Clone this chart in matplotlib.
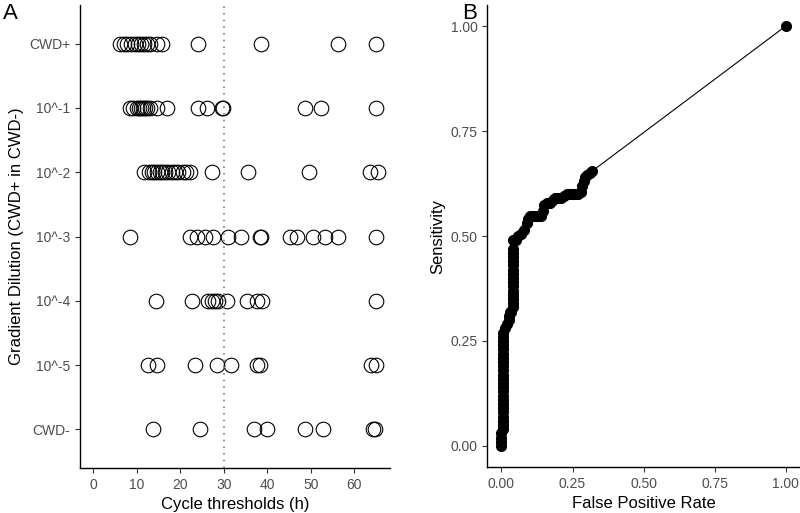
import matplotlib.pyplot as plt

plt.rcParams['font.family'] = ['Liberation Sans', 'DejaVu Sans']

# Panel A: cycle thresholds per dilution level
levels = ["CWD+", "10^-1", "10^-2", "10^-3", "10^-4", "10^-5", "CWD-"]
ct_cwd_pos = [6.2, 7.0, 7.8, 8.6, 9.5, 10.3, 11.0, 11.6, 12.3, 13.0, 14.5, 15.7,
              24.1, 38.5, 56.3, 65.0]
ct_d1 = [8.4, 9.2, 10.0, 10.5, 11.0, 11.4, 11.8, 12.3, 13.0, 14.5, 16.8,
         24.1, 26.2, 29.5, 29.8, 48.7, 52.3, 65.0]
ct_d2 = [11.7, 12.8, 13.5, 14.0, 14.6, 15.2, 15.8, 16.5, 17.2, 18.0, 18.8, 19.5,
         20.5, 21.2, 22.2, 27.2, 35.6, 49.5, 63.6, 65.4]
ct_d3 = [8.3, 22.2, 23.8, 25.7, 27.4, 31.0, 33.9, 38.2, 38.5, 45.2, 46.9, 50.6,
         53.3, 56.3, 65.0]
ct_d4 = [14.4, 22.6, 26.4, 27.2, 28.0, 28.7, 30.7, 35.4, 37.6, 38.7, 65.0]
ct_d5 = [12.6, 14.6, 23.4, 28.4, 31.6, 37.6, 38.3, 63.8, 65.0]
ct_cwd_neg = [13.6, 24.5, 37.0, 40.0, 48.7, 52.7, 64.4, 64.8]
ct_rows = [ct_cwd_pos, ct_d1, ct_d2, ct_d3, ct_d4, ct_d5, ct_cwd_neg]
threshold = 30

# Panel B: ROC curve
fpr = [0.0, 0.0, 0.0, 0.0,
       0.007, 0.007, 0.007, 0.007, 0.007, 0.007, 0.007, 0.007, 0.007, 0.007, 0.007, 0.007,
       0.007, 0.007, 0.007, 0.007, 0.007, 0.007, 0.007, 0.007, 0.007, 0.007, 0.007, 0.007,
       0.014, 0.02, 0.025, 0.025, 0.03, 0.035,
       0.042, 0.042, 0.042, 0.042, 0.042, 0.042, 0.042, 0.042, 0.042, 0.042, 0.042, 0.042,
       0.042, 0.042, 0.042, 0.042,
       0.05, 0.06, 0.07, 0.08, 0.09, 0.095, 0.10, 0.11, 0.12, 0.13, 0.14, 0.145, 0.15,
       0.16, 0.17, 0.18, 0.19, 0.20, 0.21, 0.22, 0.23, 0.24, 0.25, 0.26, 0.27, 0.28,
       0.285, 0.29, 0.295, 0.30, 0.31, 0.32, 1.0]
tpr = [0.00, 0.01, 0.02, 0.03,
       0.04, 0.05, 0.06, 0.07, 0.08, 0.09, 0.10, 0.11, 0.12, 0.13, 0.14, 0.15,
       0.16, 0.17, 0.18, 0.19, 0.20, 0.21, 0.22, 0.23, 0.24, 0.25, 0.26, 0.27,
       0.28, 0.29, 0.30, 0.31, 0.32, 0.32,
       0.33, 0.34, 0.35, 0.36, 0.37, 0.38, 0.39, 0.40, 0.41, 0.42, 0.43, 0.44,
       0.45, 0.46, 0.47, 0.49,
       0.49, 0.50, 0.505, 0.515, 0.53, 0.54, 0.548, 0.548, 0.548, 0.548, 0.548, 0.56, 0.575,
       0.578, 0.578, 0.585, 0.59, 0.59, 0.59, 0.595, 0.60, 0.60, 0.60, 0.60, 0.60, 0.605,
       0.62, 0.63, 0.64, 0.645, 0.65, 0.655, 1.0]

tick_col = "#4D4D4D"

fig = plt.figure(figsize=(8, 5.13), dpi=100)
axA = fig.add_axes([0.1, 0.0877, 0.3875, 0.9025])
axB = fig.add_axes([0.609, 0.0897, 0.391, 0.9005])

# Panel A
for i, vals in enumerate(ct_rows):
    axA.plot(vals, [len(levels) - i] * len(vals), "o", ms=10.5, mfc="none",
             mec="black", mew=0.8)
axA.axvline(threshold, color="#7F7F7F", ls=(0, (1, 3)), lw=1.2)
axA.set_xlim(-3.1, 68.2)
axA.set_ylim(0.4, len(levels) + 0.6)
axA.set_xticks([0, 10, 20, 30, 40, 50, 60])
axA.set_yticks(range(len(levels), 0, -1))
axA.set_yticklabels(levels)
axA.set_xlabel("Cycle thresholds (h)", fontsize=12)
axA.set_ylabel("Gradient Dilution (CWD+ in CWD-)", fontsize=12)

# Panel B
axB.plot(fpr, tpr, "-", color="black", lw=0.8)
axB.plot(fpr, tpr, "o", color="black", ms=7)
axB.set_xlim(-0.05, 1.05)
axB.set_ylim(-0.05, 1.05)
axB.set_xticks([0, 0.25, 0.5, 0.75, 1.0])
axB.set_yticks([0, 0.25, 0.5, 0.75, 1.0])
axB.set_xticklabels(["0.00", "0.25", "0.50", "0.75", "1.00"])
axB.set_yticklabels(["0.00", "0.25", "0.50", "0.75", "1.00"])
axB.set_xlabel("False Positive Rate", fontsize=12)
axB.set_ylabel("Sensitivity", fontsize=12)

for ax in (axA, axB):
    ax.spines["top"].set_visible(False)
    ax.spines["right"].set_visible(False)
    ax.spines["left"].set_linewidth(1.0)
    ax.spines["bottom"].set_linewidth(1.0)
    ax.tick_params(labelsize=10, labelcolor=tick_col, color="#333333",
                   length=3.5, width=0.8)

fig.text(0.004, 0.995, "A", fontsize=16, va="top")
fig.text(0.578, 0.995, "B", fontsize=16, va="top")

fig.savefig("out.png", dpi=100)
